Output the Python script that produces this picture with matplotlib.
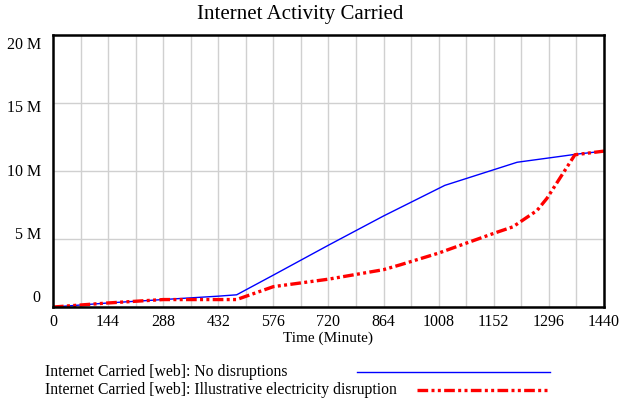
import matplotlib
matplotlib.use("Agg")
import matplotlib.pyplot as plt
from matplotlib.lines import Line2D

# minutes and values (millions)
time_base = [0, 144, 288, 432, 480, 576, 720, 864, 1024, 1213, 1370, 1440]
no_disruption = [0.0, 0.3, 0.55, 0.8, 0.9, 2.35, 4.55, 6.7, 8.95, 10.65, 11.25, 11.47]

time_elec = [0, 144, 288, 432, 480, 576, 720, 864, 907, 1008, 1090, 1160, 1202,
             1265, 1291, 1364, 1440]
elec_disruption = [0.0, 0.3, 0.55, 0.55, 0.55, 1.5, 2.05, 2.75, 3.1, 3.97, 4.8,
                   5.5, 5.9, 7.1, 8.0, 11.2, 11.47]

x_ticks = [0, 144, 288, 432, 576, 720, 864, 1008, 1152, 1296, 1440]
y_labels = ["0", "5 M", "10 M", "15 M", "20 M"]
legend_labels = ["Internet Carried [web]: No disruptions",
                 "Internet Carried [web]: Illustrative electricity disruption"]

plt.rcParams["font.family"] = ["Liberation Serif", "DejaVu Serif"]

RED_DASH = (3.2, 1.0, 0.9, 1.0, 0.9, 1.0)

fig = plt.figure(figsize=(6.21, 4.04), dpi=100)
ax = fig.add_axes([0.0853, 0.240, 0.8873, 0.673])

ax.plot(time_base, no_disruption, color="#0000ff", lw=1.0)
ax.plot(time_elec, elec_disruption, color="#ff0000", lw=2.4, dashes=RED_DASH)

ax.set_xlim(0, 1440)
ax.set_ylim(0, 20)
ax.set_xticks(x_ticks)
ax.set_xticks(range(0, 1441, 72), minor=True)
ax.set_yticks([0, 5, 10, 15, 20])
ax.set_yticklabels([])
ax.grid(True, which="both", axis="x", color="#d0d0d0", lw=1.0)
ax.grid(True, axis="y", color="#d0d0d0", lw=1.0)
ax.set_axisbelow(True)
ax.tick_params(which="both", length=0, labelsize=11.5, pad=5)
for sp in ax.spines.values():
    sp.set_linewidth(1.8)

# Vensim spreads the y labels evenly, slightly off the gridlines
for i, lab in enumerate(y_labels):
    ax.text(-0.022, 0.033 + i * 0.2325, lab, transform=ax.transAxes,
            ha="right", va="center", fontsize=11.5)

ax.set_xlabel("Time (Minute)", fontsize=11, labelpad=1)
fig.text(300 / 621, 1 - 15 / 404, "Internet Activity Carried", ha="center",
         va="center", fontsize=15)

# legend below the chart
fig.text(45 / 621, 1 - 372 / 404, legend_labels[0], ha="left", va="center",
         fontsize=11.3)
fig.text(45 / 621, 1 - 390 / 404, legend_labels[1], ha="left", va="center",
         fontsize=11.3)
fig.add_artist(Line2D([357 / 621, 550 / 621], [1 - 372 / 404] * 2,
                      color="#0000ff", lw=1.0))
fig.add_artist(Line2D([417 / 621, 550 / 621], [1 - 390 / 404] * 2,
                      color="#ff0000", lw=2.4, dashes=RED_DASH))

fig.savefig("out.png", dpi=100)
